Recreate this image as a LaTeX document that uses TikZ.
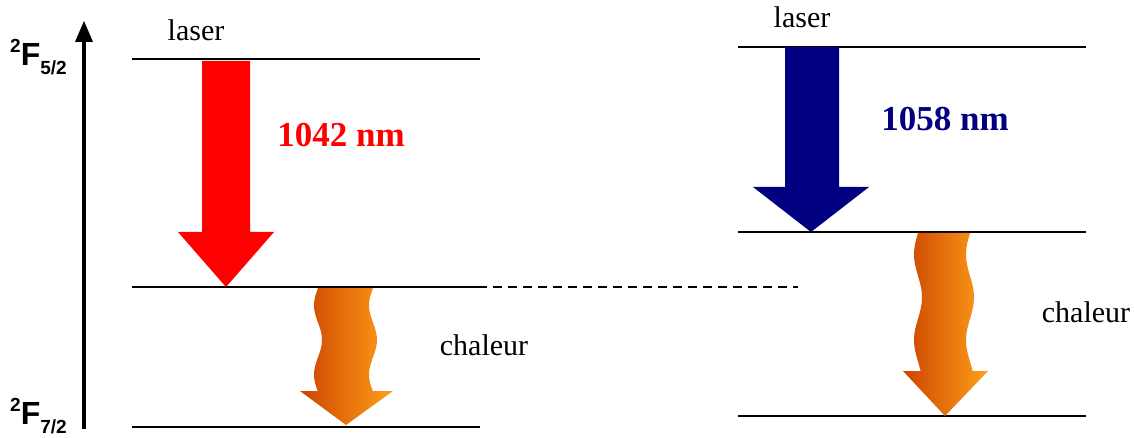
\documentclass[tikz,border=0pt]{standalone}
\usepackage{fontspec}
\setmainfont{Liberation Serif}
\setsansfont{Liberation Sans}
\definecolor{navyb}{RGB}{0,0,128}
\definecolor{ordark}{RGB}{204,68,0}
\definecolor{orlight}{RGB}{255,160,26}
\begin{document}
\begin{tikzpicture}[x=1pt,y=-1pt,
  level/.style={line width=1.5pt},
  lbl/.style={font=\fontsize{30}{32}\selectfont, inner sep=0pt},
  nm/.style={font=\fontsize{35}{38}\selectfont\bfseries, inner sep=0pt},
  term/.style={font=\sffamily\bfseries\fontsize{32}{34}\selectfont, inner sep=0pt},
  heat/.style={left color=ordark, right color=orlight, draw=none}]
\useasboundingbox (0,0) rectangle (1134,438);
% levels
\coordinate (L1a) at (132,59);  \coordinate (L1b) at (480,59);
\coordinate (L2a) at (132,287); \coordinate (L2b) at (478,287);
\coordinate (L3a) at (132,427); \coordinate (L3b) at (480,427);
\coordinate (R1a) at (738,47);  \coordinate (R1b) at (1086,47);
\coordinate (R2a) at (738,232); \coordinate (R2b) at (1086,232);
\coordinate (R3a) at (738,416); \coordinate (R3b) at (1086,416);
\coordinate (D) at (798,287);
\draw[level] (L1a) -- (L1b);
\draw[level] (L2a) -- (L2b);
\draw[level] (L3a) -- (L3b);
\draw[level] (R1a) -- (R1b);
\draw[level] (R2a) -- (R2b);
\draw[level] (R3a) -- (R3b);
\draw[level, dash pattern=on 9pt off 6pt] (L2b) -- (D);
% energy axis
\coordinate (Ax0) at (84,429);
\coordinate (Ax1) at (84,40);
\fill (84,21) -- (93,42) -- (75,42) -- cycle;
\draw[line width=4.5pt] (Ax0) -- (Ax1);
% red arrow
\fill[red] (202,61) -- (250,61) -- (250,232) -- (274,232) -- (226,287) -- (178,232) -- (202,232) -- cycle;
% blue arrow
\fill[navyb] (785,47) -- (839,47) -- (839,187) -- (869,187) -- (811,232) -- (753,187) -- (785,187) -- cycle;
% left heat arrow
\shade[heat] (320,288) -- plot[domain=288:391, samples=60, smooth] ({318-4*sin((\x-288)*5.2)}, \x)
  -- (300,391) -- (346,425) -- (393,391) -- (373,391)
  -- plot[domain=391:288, samples=60, smooth] ({373-4*sin((\x-288)*5.2)}, \x) -- cycle;
% right heat arrow
\shade[heat] (919,233) -- plot[domain=233:371, samples=70, smooth] ({918-4*sin((\x-233)*4.2)}, \x)
  -- (903,371) -- (945,416) -- (988,371) -- (970,371)
  -- plot[domain=371:233, samples=70, smooth] ({970-4*sin((\x-233)*4.2)}, \x) -- cycle;
% labels
\node[lbl] (laserL) at (196,30) {laser};
\node[lbl] (laserR) at (802,17) {laser};
\node[nm, text=red] (nmL) at (341,135) {1042 nm};
\node[nm, text=navyb] (nmR) at (945,119) {1058 nm};
\node[lbl] (chL) at (484,345) {chaleur};
\node[lbl] (chR) at (1086,312) {chaleur};
\node[term, anchor=west] (F52) at (10,57) {\raisebox{0.4em}{\fontsize{19}{20}\selectfont 2}F\raisebox{-0.3em}{\fontsize{19}{20}\selectfont 5/2}};
\node[term, anchor=west] (F72) at (10,416) {\raisebox{0.4em}{\fontsize{19}{20}\selectfont 2}F\raisebox{-0.3em}{\fontsize{19}{20}\selectfont 7/2}};
\end{tikzpicture}
\end{document}
